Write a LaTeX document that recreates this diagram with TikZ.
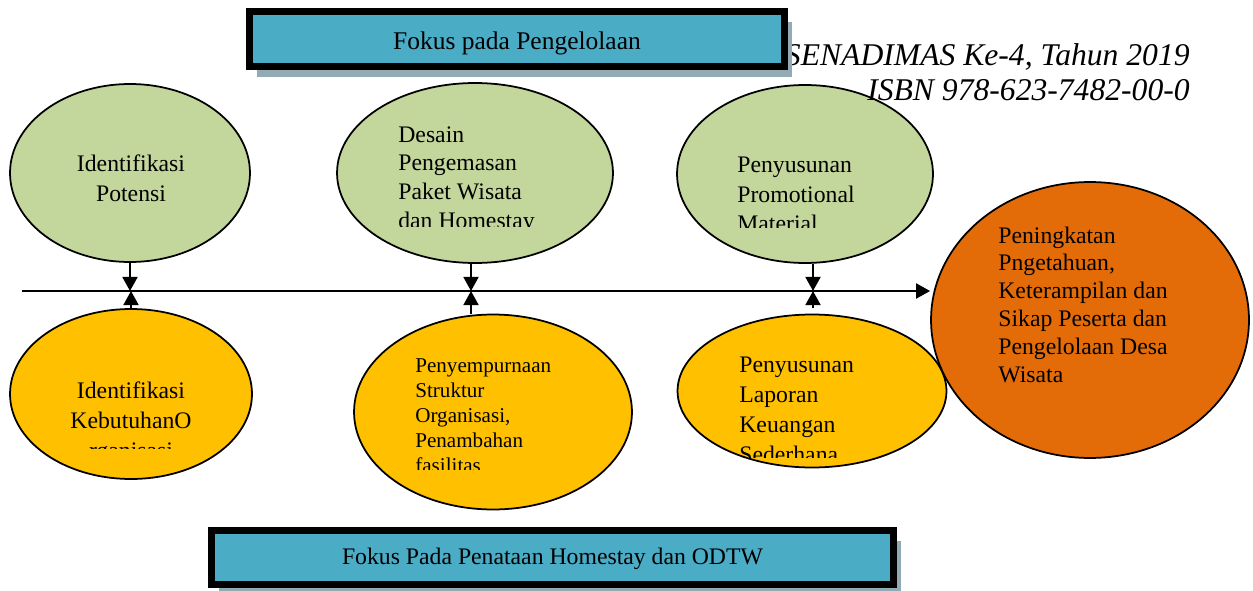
\documentclass[tikz,border=0pt]{standalone}
\usepackage{fontspec}
\setmainfont{Liberation Serif}
\usetikzlibrary{shapes.geometric,arrows.meta,shadows}

\definecolor{potgreen}{RGB}{195,214,155}
\definecolor{orgyellow}{RGB}{255,192,0}
\definecolor{outorange}{RGB}{227,108,9}
\definecolor{boxblue}{RGB}{75,172,198}
\definecolor{boxshadow}{RGB}{146,170,180}

\begin{document}
\begin{tikzpicture}[x=0.02cm,y=-0.02cm,
  oval/.style={ellipse,draw=black,line width=1pt,inner sep=0pt},
  topoval/.style={oval,fill=potgreen},
  botoval/.style={oval,fill=orgyellow},
  txt/.style={inner sep=0pt,align=left,font=\fontsize{13.5}{17}\selectfont},
  hdr/.style={inner sep=0pt,font=\fontsize{18}{21}\selectfont\itshape},
  focusbox/.style={draw=black,line width=4pt,fill=boxblue,inner sep=0pt,
    text depth=0pt,
    drop shadow={shadow xshift=0.15cm,shadow yshift=-0.21cm,fill=boxshadow,opacity=1}},
  arr/.style={line width=1.2pt,-{Triangle[length=8pt,width=8.5pt]}}]
  \useasboundingbox (0,0) rectangle (1253,591);

  % ellipses above the axis
  \node[topoval, minimum width=4.8cm, minimum height=3.56cm] (potensi) at (130,173) {};
  \node[topoval, minimum width=5.52cm, minimum height=3.6cm] (desain) at (475,173) {};
  \node[topoval, minimum width=5.12cm, minimum height=3.56cm] (promosi) at (805,174) {};
  % ellipses below the axis
  \node[botoval, minimum width=4.84cm, minimum height=3.4cm] (kebutuhan) at (131,394) {};
  \node[botoval, minimum width=5.56cm, minimum height=3.9cm] (struktur) at (493,412) {};
  \node[botoval, minimum width=5.38cm, minimum height=3.06cm] (laporan) at (812,391) {};
  % result
  \node[oval, fill=outorange, minimum width=6.36cm, minimum height=5.52cm] (hasil) at (1090,320) {};

  % texts, placed at the baseline of their last line (cut off at the bottom)
  \node[txt, align=center, anchor=base] (potensitxt) at (131,201) {Identifikasi\\Potensi};
  \begin{scope}
    \clip (330,80) rectangle (640,226);
    \node[txt, font=\fontsize{13.5}{16.3}\selectfont, anchor=base west] (desaintxt) at (398,228)
      {Desain\\Pengemasan\\Paket Wisata\\dan Homestay};
  \end{scope}
  \begin{scope}
    \clip (680,80) rectangle (930,227);
    \node[txt, anchor=base west] (promositxt) at (737,232) {Penyusunan\\Promotional\\Material};
  \end{scope}
  \begin{scope}
    \clip (10,300) rectangle (252,448);
    \node[txt, align=center, anchor=base] (kebutuhantxt) at (131,458) {Identifikasi\\KebutuhanO\\rganisasi};
  \end{scope}
  \begin{scope}
    \clip (354,320) rectangle (632,469);
    \node[txt, font=\fontsize{12}{14.1}\selectfont, anchor=base west] (strukturtxt) at (415,472)
      {Penyempurnaan\\Struktur\\Organisasi,\\Penambahan\\fasilitas};
  \end{scope}
  \begin{scope}
    \clip (680,320) rectangle (946,457);
    \node[txt, anchor=base west] (laporantxt) at (739,462) {Penyusunan\\Laporan\\Keuangan\\Sederhana};
  \end{scope}
  \node[txt, font=\fontsize{13.5}{15.8}\selectfont, anchor=base west] (hasiltxt) at (998,382)
    {Peningkatan\\Pngetahuan,\\Keterampilan dan\\Sikap Peserta dan\\Pengelolaan Desa\\Wisata};

  % axis and connectors
  \coordinate (start) at (22,291);
  \coordinate (d) at (471,291);
  \coordinate (m) at (813,291);
  \coordinate (lap) at (813,308);
  \draw[arr] (start) -- (start -| hasil.west);
  \draw[arr] (potensi.south) -- (potensi.south |- start);
  \draw[arr] (kebutuhan.north) -- (kebutuhan.north |- start);
  \draw[arr] (d |- desain.south) -- (d);
  \draw[arr] (d |- struktur.north) -- (d);
  \draw[arr] (m |- promosi.south) -- (m);
  \draw[arr] (lap) -- (m);

  % header
  \node[hdr, anchor=base east] (konf) at (1190,66) {SENADIMAS Ke-4, Tahun 2019};
  \node[hdr, anchor=base east] (isbn) at (1190,101) {ISBN 978-623-7482-00-0};

  % focus boxes
  \node[focusbox, minimum width=10.7cm, minimum height=1.1cm, text height=12.5pt,
    font=\fontsize{14.5}{17}\selectfont] (fokusatas) at (517,39) {Fokus pada Pengelolaan};
  \node[focusbox, minimum width=13.64cm, minimum height=1.08cm, text height=8.5pt,
    font=\fontsize{13.5}{16}\selectfont] (fokusbawah) at (552.5,557.5) {Fokus Pada Penataan Homestay dan ODTW};
\end{tikzpicture}
\end{document}
